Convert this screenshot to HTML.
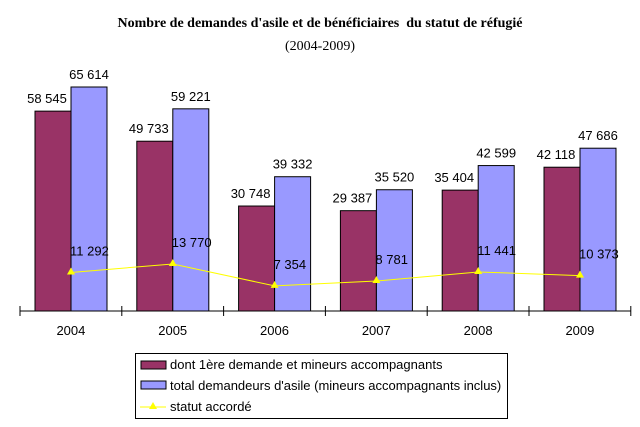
<!DOCTYPE html>
<html><head><meta charset="utf-8"><style>
body{margin:0;background:#fff;}
svg{display:block;font-family:"Liberation Sans",Arial,sans-serif;}
</style></head><body>
<svg id="chart" width="640" height="427">
<text x="320" y="27" text-anchor="middle" font-family="Liberation Serif" font-weight="bold" font-size="14">Nombre de demandes d'asile et de bénéficiaires &#160;du statut de réfugié</text>
<text x="320" y="50" text-anchor="middle" font-family="Liberation Serif" font-size="14">(2004-2009)</text>
<g id="plot"></g>
<g>
<rect x="135.5" y="353.5" width="372" height="65" fill="#fff" stroke="#000"/>
<rect x="141" y="361" width="25" height="8" fill="#993366" stroke="#000"/>
<text x="170" y="369" font-size="13">dont 1ère demande et mineurs accompagnants</text>
<rect x="141" y="381" width="25" height="8" fill="#9999ff" stroke="#000"/>
<text x="170" y="390" font-size="13">total demandeurs d'asile (mineurs accompagnants inclus)</text>
<line x1="140" y1="407" x2="166" y2="407" stroke="#ffff00"/>
<polygon points="153,402 157,409 149,409" fill="#ffff00"/>
<text x="170" y="411" font-size="13">statut accordé</text>
</g>
</svg>
<script>
const years=["2004","2005","2006","2007","2008","2009"];
const firstDemand=[58545,49733,30748,29387,35404,42118];
const totalDemand=[65614,59221,39332,35520,42599,47686];
const statut=[11292,13770,7354,8781,11441,10373];
const NS="http://www.w3.org/2000/svg";
const g=document.getElementById('plot');
const x0=20,band=101.8,base=311,k=224/65614;
const y=v=>base-v*k;
const fmt=v=>String(v).replace(/\B(?=(\d{3})+(?!\d))/g,' ');
function mk(t,a){const e=document.createElementNS(NS,t);for(const n in a)e.setAttribute(n,a[n]);g.appendChild(e);return e;}
years.forEach((yr,i)=>{
 const bx=x0+i*band+15;
 let r=mk('rect',{x:bx,y:y(firstDemand[i]),width:36,height:base-y(firstDemand[i]),fill:'#993366',stroke:'#000'});
 
 
 r=mk('rect',{x:bx+36,y:y(totalDemand[i]),width:36,height:base-y(totalDemand[i]),fill:'#9999ff',stroke:'#000'});
 
 
 let t=mk('text',{x:bx+12,y:y(firstDemand[i])-8,'text-anchor':'middle','font-size':'13'});t.textContent=fmt(firstDemand[i]);
 
 
 t=mk('text',{x:bx+54,y:y(totalDemand[i])-8,'text-anchor':'middle','font-size':'13'});t.textContent=fmt(totalDemand[i]);
 
 
 t=mk('text',{x:x0+i*band+band/2,y:base+24,'text-anchor':'middle','font-size':'13'});t.textContent=yr;
 
 
});
let ax=mk('line',{x1:x0,y1:base,x2:x0+6*band,y2:base,stroke:'#000'});


for(let i=0;i<=6;i++){const tk=mk('line',{x1:x0+i*band,y1:base-5,x2:x0+i*band,y2:base+5,stroke:'#000'});
 
 }
const pts=statut.map((v,i)=>[x0+i*band+51,y(v)]);
const pl=mk('polyline',{points:pts.map(p=>p.join(',')).join(' '),fill:'none',stroke:'#ffff00'});


pts.forEach((p,i)=>{
 const m=mk('polygon',{points:`${p[0]},${p[1]-5} ${p[0]+4},${p[1]+2} ${p[0]-4},${p[1]+2}`,fill:'#ffff00'});
 
 
 const t=mk('text',{x:p[0]-1,y:p[1]-17,'font-size':'13'});t.textContent=fmt(statut[i]);
 
 
});
</script>
</body></html>
